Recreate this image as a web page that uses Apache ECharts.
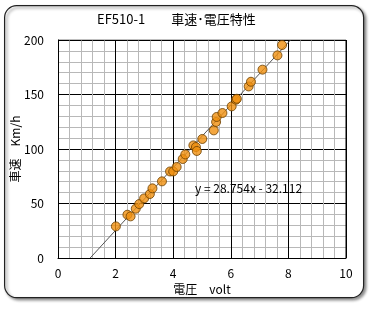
<!DOCTYPE html>
<html><head><meta charset="utf-8">
<script src="https://cdn.jsdelivr.net/npm/echarts@6/dist/echarts.min.js"></script>
<style>html,body{margin:0;padding:0;background:#fff}#c{width:373px;height:309px}</style>
</head><body><div id="c"></div>
<script>
const voltage = [2.01,2.41,2.52,2.70,2.82,2.99,3.19,3.28,3.61,3.89,4.00,4.12,4.33,4.42,4.70,4.79,4.82,5.01,5.41,5.49,5.51,5.71,6.03,6.18,6.21,6.62,6.70,7.10,7.62,7.78];
const speed   = [29,39.7,38.2,45.2,49.5,54.7,58.7,63.9,70.3,79.4,79.4,83.5,90.8,95,103.3,101.8,98.2,109.2,117.1,124.8,129.4,133,139.1,145.2,146.1,157.4,161.7,172.8,185.9,195.4];
const trendCoef = [28.754, -32.112];
const xTicks = [0,2,4,6,8,10];
const yTicks = [0,50,100,150,200];

const pts = voltage.map((v,i)=>[v,speed[i]]);
const yMin = yTicks[0], yMax = yTicks[yTicks.length-1];
const trend = [[(yMin-trendCoef[1])/trendCoef[0], yMin],[(yMax-trendCoef[1])/trendCoef[0], yMax]];
const font = '"Noto Sans CJK JP", "DejaVu Sans", sans-serif';

const chart = echarts.init(document.getElementById('c'));
chart.setOption({
  animation:false,
  backgroundColor:'#fff',
  graphic:[{
    type:'rect', left:4, top:5, z:-10,
    shape:{width:359, height:292, r:12},
    style:{fill:'#fff', stroke:'#222', lineWidth:1.2, shadowBlur:3, shadowOffsetX:2, shadowOffsetY:2, shadowColor:'rgba(0,0,0,0.45)'}
  },{
    type:'text', left:97, top:13,
    style:{text:'EF510-1\u3000\u3000車速･電圧特性', fill:'#000', font:'13px '+font}
  },{
    type:'text', left:195, top:182,
    style:{text:'y = 28.754x - 32.112', fill:'#000', font:'12px '+font}, z:100
  }],
  grid:{left:58, top:40, right:27, bottom:51, containLabel:false, outerBoundsMode:'none'},
  xAxis:{
    type:'value', min:xTicks[0], max:xTicks[xTicks.length-1], interval:2,
    name:'電圧\u3000volt', nameLocation:'middle', nameGap:25, nameMoveOverlap:false,
    nameTextStyle:{color:'#000', fontSize:12, fontFamily:font},
    axisLine:{show:true, lineStyle:{color:'#000', width:1}},
    axisTick:{show:false},
    axisLabel:{color:'#000', fontSize:12, fontFamily:font, margin:9},
    splitLine:{show:true, lineStyle:{color:'#000', width:1}},
    minorTick:{show:false, splitNumber:5},
    minorSplitLine:{show:true, lineStyle:{color:'#b8b8b8', width:1}}
  },
  yAxis:{
    type:'value', min:yMin, max:yMax, interval:50,
    name:'車速\u3000Km/h', nameLocation:'middle', nameGap:37, nameRotate:90, nameMoveOverlap:false,
    nameTextStyle:{color:'#000', fontSize:12, fontFamily:font},
    axisLine:{show:true, lineStyle:{color:'#000', width:1}},
    axisTick:{show:false},
    axisLabel:{color:'#000', fontSize:12, fontFamily:font, margin:14},
    splitLine:{show:true, lineStyle:{color:'#000', width:1}},
    minorTick:{show:false, splitNumber:5},
    minorSplitLine:{show:true, lineStyle:{color:'#b8b8b8', width:1}}
  },
  series:[{
    type:'line', data:trend, symbol:'none', silent:true,
    lineStyle:{color:'#555', width:1}, z:3
  },{
    type:'scatter', data:pts, symbol:'circle', symbolSize:9,
    itemStyle:{color:'#F0900F', borderColor:'#6a3f00', borderWidth:1}, z:4
  },{
    type:'line', data:[[xTicks[xTicks.length-1],yMin],[xTicks[xTicks.length-1],yMax]], symbol:'none', silent:true,
    lineStyle:{color:'#000', width:1}, z:2
  },{
    type:'line', data:[[xTicks[0],yMax],[xTicks[xTicks.length-1],yMax]], symbol:'none', silent:true,
    lineStyle:{color:'#000', width:1}, z:2
  }]
});
</script></body></html>
